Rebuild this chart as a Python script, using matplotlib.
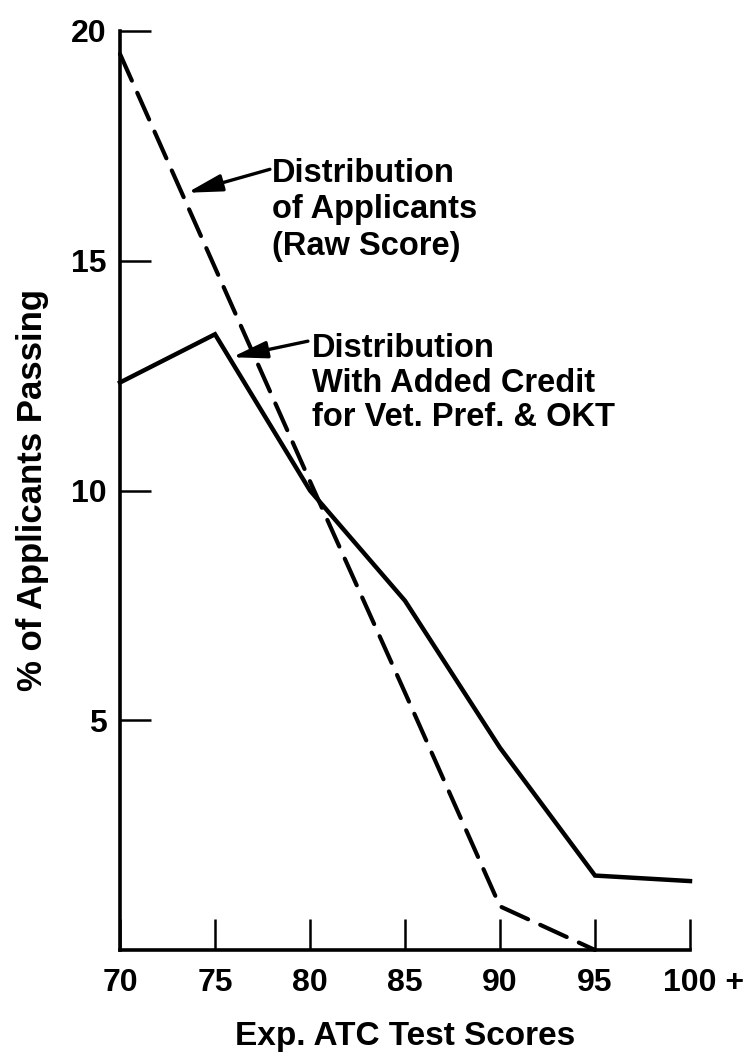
import matplotlib
matplotlib.use("Agg")
import matplotlib.pyplot as plt
from matplotlib.transforms import ScaledTranslation

scores = [70, 75, 80, 85, 90, 95, 100]
xtick_labels = ["70", "75", "80", "85", "90", "95", "100 +"]
raw_scores = [70, 75, 80, 85, 90, 95]
raw_pct = [19.5, 14.85, 10.2, 5.6, 0.95, 0.0]
credit_pct = [12.35, 13.4, 10.0, 7.6, 4.4, 1.62, 1.5]
yticks = [5, 10, 15, 20]

plt.rcParams['font.family'] = ['Liberation Sans', 'DejaVu Sans']
plt.rcParams['font.weight'] = 'bold'

fig = plt.figure(figsize=(7.48, 10.55), dpi=100)
ax = fig.add_axes([120/748, 1 - 950/1055, (690-120)/748, (950-31)/1055])

ax.plot(raw_scores, raw_pct, color='black', lw=3, linestyle=(0, (7, 3.2)),
        solid_capstyle='round', dash_capstyle='round', clip_on=False)
ax.plot(scores, credit_pct, color='black', lw=3.2, clip_on=False,
        solid_joinstyle='miter')

ax.set_xlim(70, 100)
ax.set_ylim(0, 20)
for s in ['top', 'right']:
    ax.spines[s].set_visible(False)
for s in ['left', 'bottom']:
    ax.spines[s].set_linewidth(2.6)

ax.set_xticks(scores)
ax.set_xticklabels(xtick_labels)
ax.set_yticks(yticks)
ax.set_yticklabels([str(v) for v in yticks])
ax.tick_params(axis='both', direction='in', length=22, width=1.8,
               labelsize=23, colors='black')
ax.tick_params(axis='x', pad=13)
ax.tick_params(axis='y', pad=9.5)
for lab in ax.get_xticklabels():
    lab.set_fontweight('bold')
    if lab.get_text().startswith('100'):
        lab.set_transform(lab.get_transform() + ScaledTranslation(10/72, 0, fig.dpi_scale_trans))
for lab in ax.get_yticklabels():
    lab.set_fontweight('bold')

ax.set_xlabel("Exp. ATC Test Scores", fontsize=24, fontweight='bold')
ax.xaxis.label.set_verticalalignment('baseline')
ax.xaxis.set_label_coords(0.5, (950 - 1045) / 919)

ax.set_ylabel("% of Applicants Passing", fontsize=25, fontweight='bold')
ax.yaxis.label.set_verticalalignment('center')
ax.yaxis.set_label_coords((33 - 120) / 570, (950 - 490) / 919)

ap = dict(arrowstyle='-|>,head_length=0.9,head_width=0.22', color='black', lw=2.4,
          shrinkA=0, shrinkB=0, mutation_scale=23.5)

ax.text(78.0, (950-257)/45.8, "Distribution\nof Applicants\n(Raw Score)",
        fontsize=23.5, fontweight='bold', ha='left', va='baseline', linespacing=1.22)
ax.annotate("", xy=(73.53, 16.48), xytext=(77.89, 16.99), arrowprops=ap)

ax.text(80.1, (950-428)/45.8, "Distribution\nWith Added Credit\nfor Vet. Pref. & OKT",
        fontsize=23.5, fontweight='bold', ha='left', va='baseline', linespacing=1.15)
ax.annotate("", xy=(75.89, 12.90), xytext=(79.89, 13.25), arrowprops=ap)

fig.savefig("out.png", dpi=100)
